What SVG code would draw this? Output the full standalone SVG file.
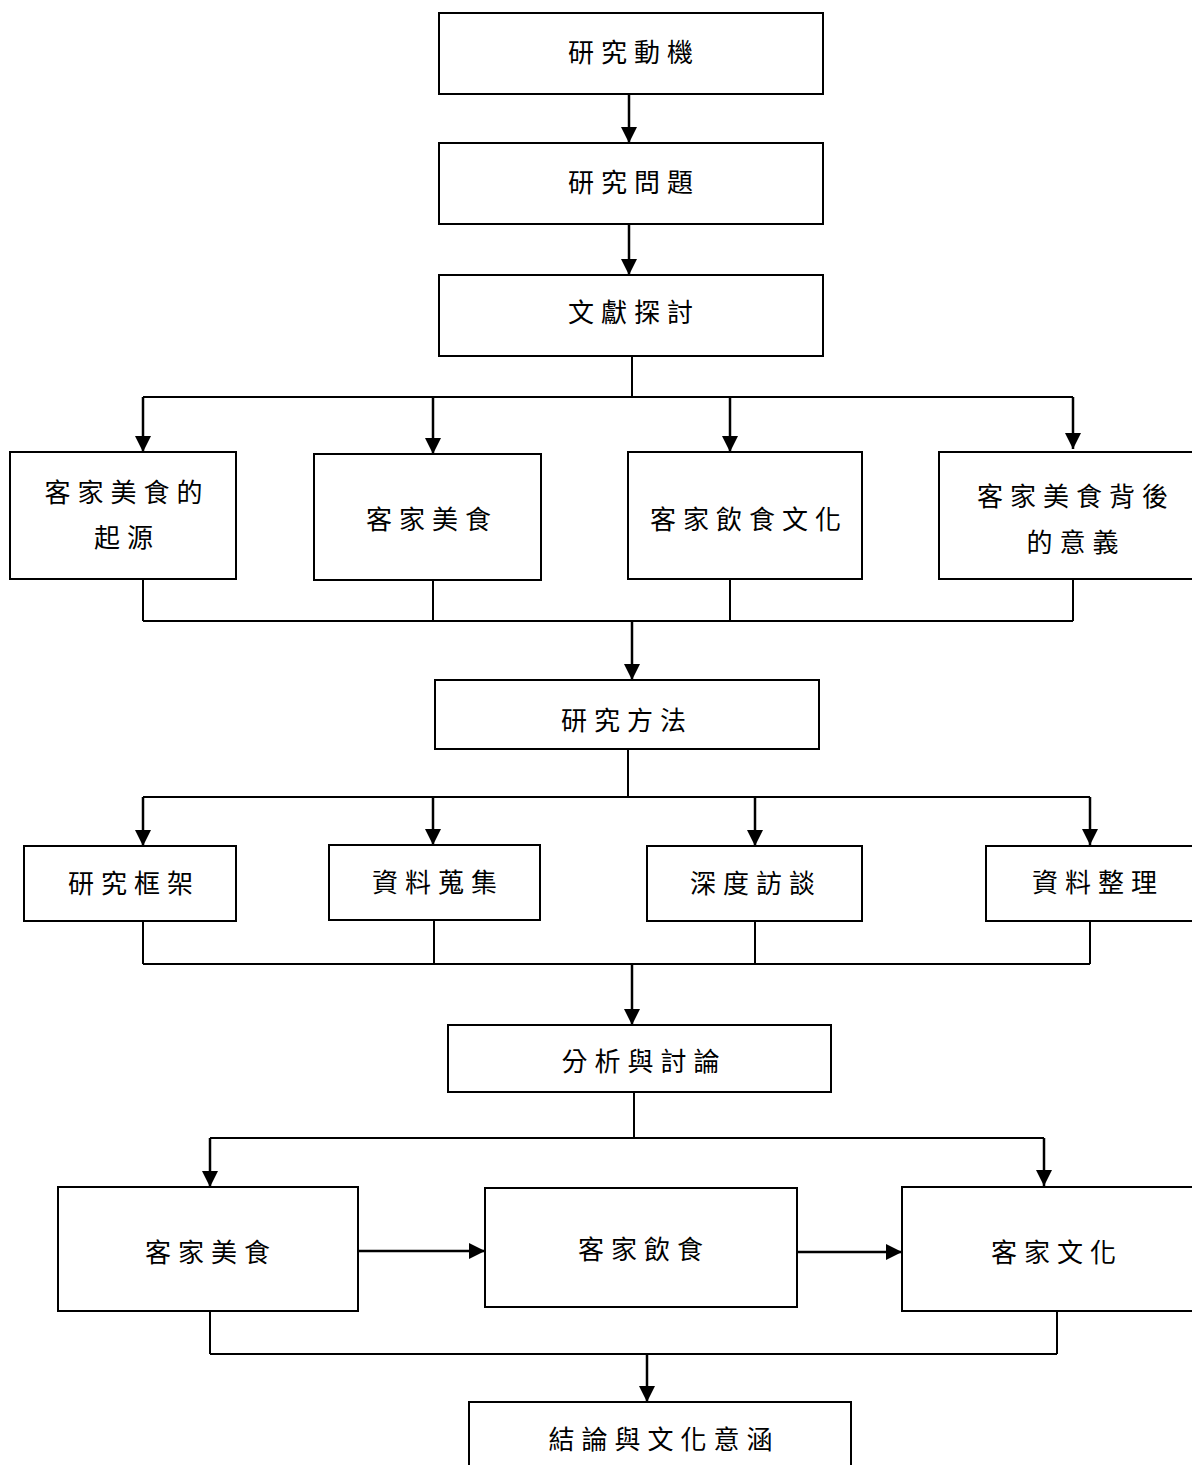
<svg xmlns="http://www.w3.org/2000/svg" width="1192" height="1465" viewBox="0 0 1192 1465">
<style>
.box{fill:#fff;stroke:#000;stroke-width:2}
.t{font-family:"Noto Sans CJK TC","Noto Sans CJK SC",sans-serif;font-size:26px;letter-spacing:7px;fill:#000;text-anchor:middle;dominant-baseline:central}
.ln{stroke:#000;stroke-width:2;fill:none}
.ar{stroke:#000;stroke-width:2.5;fill:none;marker-end:url(#ah)}
</style>
<defs>
<marker id="ah" markerUnits="userSpaceOnUse" markerWidth="16" markerHeight="16" viewBox="0 0 16 16" refX="16" refY="8" orient="auto">
<path d="M0,0 L16,8 L0,16 Z" fill="#000"/>
</marker>
</defs>
<rect width="1192" height="1465" fill="#fff"/>
<g id="connectors">
<line class="ar" x1="629" y1="94" x2="629" y2="143"/>
<line class="ar" x1="629" y1="224" x2="629" y2="275"/>
<line class="ln" x1="632" y1="356" x2="632" y2="397"/>
<line class="ln" x1="143" y1="397" x2="1073" y2="397"/>
<line class="ar" x1="143" y1="397" x2="143" y2="452"/>
<line class="ar" x1="433" y1="397" x2="433" y2="454"/>
<line class="ar" x1="730" y1="397" x2="730" y2="452"/>
<line class="ar" x1="1073" y1="397" x2="1073" y2="449"/>
<line class="ln" x1="143" y1="579" x2="143" y2="621"/>
<line class="ln" x1="433" y1="580" x2="433" y2="621"/>
<line class="ln" x1="730" y1="579" x2="730" y2="621"/>
<line class="ln" x1="1073" y1="579" x2="1073" y2="621"/>
<line class="ln" x1="143" y1="621" x2="1073" y2="621"/>
<line class="ar" x1="632" y1="621" x2="632" y2="680"/>
<line class="ln" x1="628" y1="749" x2="628" y2="797"/>
<line class="ln" x1="143" y1="797" x2="1090" y2="797"/>
<line class="ar" x1="143" y1="797" x2="143" y2="846"/>
<line class="ar" x1="433" y1="797" x2="433" y2="845"/>
<line class="ar" x1="755" y1="797" x2="755" y2="846"/>
<line class="ar" x1="1090" y1="797" x2="1090" y2="845"/>
<line class="ln" x1="143" y1="921" x2="143" y2="964"/>
<line class="ln" x1="434" y1="920" x2="434" y2="964"/>
<line class="ln" x1="755" y1="921" x2="755" y2="964"/>
<line class="ln" x1="1090" y1="921" x2="1090" y2="964"/>
<line class="ln" x1="143" y1="964" x2="1090" y2="964"/>
<line class="ar" x1="632" y1="964" x2="632" y2="1025"/>
<line class="ln" x1="634" y1="1092" x2="634" y2="1138"/>
<line class="ln" x1="210" y1="1138" x2="1044" y2="1138"/>
<line class="ar" x1="210" y1="1138" x2="210" y2="1187"/>
<line class="ar" x1="1044" y1="1138" x2="1044" y2="1186"/>
<line class="ar" x1="358" y1="1251" x2="485" y2="1251"/>
<line class="ar" x1="797" y1="1252" x2="902" y2="1252"/>
<line class="ln" x1="210" y1="1311" x2="210" y2="1354"/>
<line class="ln" x1="1057" y1="1311" x2="1057" y2="1354"/>
<line class="ln" x1="210" y1="1354" x2="1057" y2="1354"/>
<line class="ar" x1="647" y1="1354" x2="647" y2="1402"/>
</g>
<g id="n1"><rect class="box" x="439" y="13" width="384" height="81"/><text class="t" x="634" y="50">研究動機</text></g>
<g id="n2"><rect class="box" x="439" y="143" width="384" height="81"/><text class="t" x="634" y="180">研究問題</text></g>
<g id="n3"><rect class="box" x="439" y="275" width="384" height="81"/><text class="t" x="634" y="310">文獻探討</text></g>
<g id="n4"><rect class="box" x="10" y="452" width="226" height="127"/><text class="t" x="127" y="490">客家美食的</text><text class="t" x="127" y="535">起源</text></g>
<g id="n5"><rect class="box" x="314" y="454" width="227" height="126"/><text class="t" x="432" y="517">客家美食</text></g>
<g id="n6"><rect class="box" x="628" y="452" width="234" height="127"/><text class="t" x="749" y="517">客家飲食文化</text></g>
<g id="n7"><rect class="box" x="939" y="452" width="260" height="127"/><text class="t" x="1076" y="494">客家美食背後</text><text class="t" x="1076" y="540">的意義</text></g>
<g id="n8"><rect class="box" x="435" y="680" width="384" height="69"/><text class="t" x="627" y="718">研究方法</text></g>
<g id="n9"><rect class="box" x="24" y="846" width="212" height="75"/><text class="t" x="134" y="881">研究框架</text></g>
<g id="n10"><rect class="box" x="329" y="845" width="211" height="75"/><text class="t" x="438" y="880">資料蒐集</text></g>
<g id="n11"><rect class="box" x="647" y="846" width="215" height="75"/><text class="t" x="756" y="881">深度訪談</text></g>
<g id="n12"><rect class="box" x="986" y="846" width="213" height="75"/><text class="t" x="1098" y="880">資料整理</text></g>
<g id="n13"><rect class="box" x="448" y="1025" width="383" height="67"/><text class="t" x="644" y="1059">分析與討論</text></g>
<g id="n14"><rect class="box" x="58" y="1187" width="300" height="124"/><text class="t" x="211" y="1250">客家美食</text></g>
<g id="n15"><rect class="box" x="485" y="1188" width="312" height="119"/><text class="t" x="644" y="1247">客家飲食</text></g>
<g id="n16"><rect class="box" x="902" y="1187" width="297" height="124"/><text class="t" x="1057" y="1250">客家文化</text></g>
<g id="n17"><rect class="box" x="469" y="1402" width="382" height="80"/><text class="t" x="664" y="1437">結論與文化意涵</text></g>
</svg>
